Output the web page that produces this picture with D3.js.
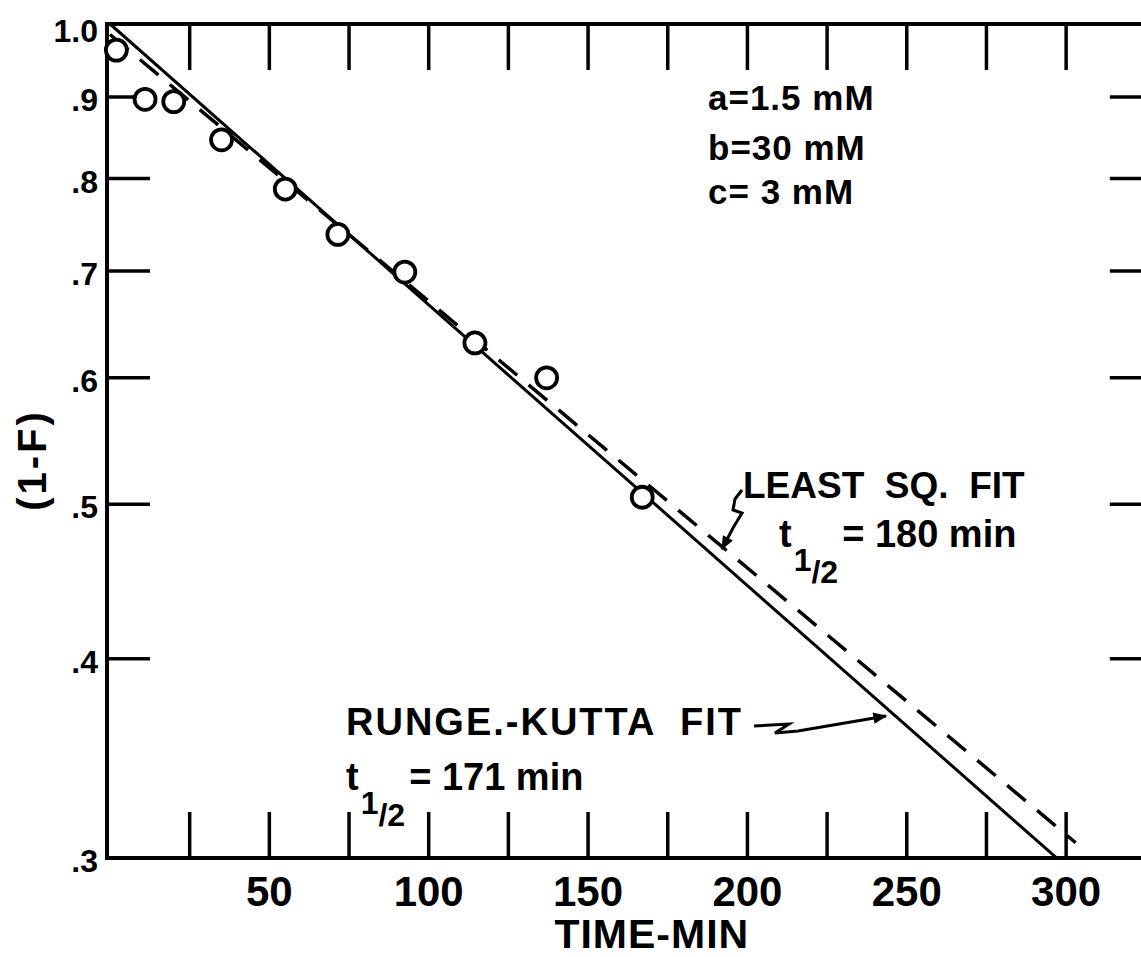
<!DOCTYPE html>
<html>
<head>
<meta charset="utf-8">
<script src="https://cdn.jsdelivr.net/npm/d3@7/dist/d3.min.js"></script>
<style>
  html, body { margin: 0; padding: 0; background: #fff; }
  svg { display: block; }
  text { font-family: "Liberation Sans", Arial, sans-serif; font-weight: bold; fill: #000; }
</style>
</head>
<body>
<svg id="chart" width="1141" height="957"></svg>
<script>
// Observed fraction remaining (1-F) versus time in minutes
const times = [2, 11, 20, 35, 55, 71.5, 92.5, 114.5, 137, 167];
const fractions = [0.963, 0.897, 0.894, 0.846, 0.788, 0.738, 0.699, 0.631, 0.600, 0.505];

// Fitted first-order decays: value = start * 2^(-t / halfLife)
const rungeKuttaHalfLife = 171;
const rungeKuttaStart = 1.0;
const rungeKuttaEnd = 297;
const leastSqHalfLife = 180;
const leastSqStart = 0.985;
const leastSqEnd = 303;

// Axis ticks
const xTicks = [25, 50, 75, 100, 125, 150, 175, 200, 225, 250, 275, 300];
const xTickLabels = [50, 100, 150, 200, 250, 300];
const yTicks = [0.9, 0.8, 0.7, 0.6, 0.5, 0.4];
const yTickLabels = [[1.0, "1.0"], [0.9, ".9"], [0.8, ".8"], [0.7, ".7"], [0.6, ".6"], [0.5, ".5"], [0.4, ".4"], [0.3, ".3"]];

const concentrations = ["a=1.5 mM", "b=30 mM", "c= 3 mM"];

const svg = d3.select("#chart");

const x = d3.scaleLinear().domain([0, 325]).range([110, 1145.8]);
const y = d3.scaleLog().domain([0.3, 1.0]).range([858, 24]);

const frameL = x(0) - 3, frameR = x(325) + 4, frameT = y(1.0), frameB = y(0.3);

// Frame
svg.append("rect")
  .attr("x", frameL).attr("y", frameT)
  .attr("width", frameR - frameL).attr("height", frameB - frameT)
  .attr("fill", "none").attr("stroke", "#000").attr("stroke-width", 4);

const tickG = svg.append("g").attr("stroke", "#000").attr("stroke-width", 3.5);
// Top and bottom ticks, pointing inward
tickG.selectAll("line.tt").data(xTicks).join("line").attr("class", "tt")
  .attr("x1", d => x(d)).attr("x2", d => x(d))
  .attr("y1", frameT).attr("y2", frameT + 46);
tickG.selectAll("line.bt").data(xTicks).join("line").attr("class", "bt")
  .attr("x1", d => x(d)).attr("x2", d => x(d))
  .attr("y1", frameB).attr("y2", frameB - 46);
// Left and right ticks
tickG.selectAll("line.lt").data(yTicks).join("line").attr("class", "lt")
  .attr("x1", frameL).attr("x2", frameL + 43)
  .attr("y1", d => y(d)).attr("y2", d => y(d));
tickG.selectAll("line.rt").data(yTicks).join("line").attr("class", "rt")
  .attr("x1", frameR).attr("x2", frameR - 40)
  .attr("y1", d => y(d)).attr("y2", d => y(d));

// Tick labels
svg.selectAll("text.yl").data(yTickLabels).join("text").attr("class", "yl")
  .attr("x", 98).attr("y", d => y(d[0]) + (d[0] === 1 ? 18 : 14))
  .attr("text-anchor", "end").attr("font-size", 32)
  .text(d => d[1]);

svg.selectAll("text.xl").data(xTickLabels).join("text").attr("class", "xl")
  .attr("x", d => x(d)).attr("y", 906)
  .attr("text-anchor", "middle").attr("font-size", 42)
  .text(d => d);

// Axis titles
svg.append("text")
  .attr("x", x(170)).attr("y", 948)
  .attr("text-anchor", "middle").attr("font-size", 41)
  .attr("letter-spacing", 1)
  .text("TIME-MIN");

svg.append("text")
  .attr("transform", "translate(46,460) rotate(-90)")
  .attr("text-anchor", "middle").attr("font-size", 40)
  .attr("letter-spacing", 3)
  .text("(1-F)");

// Fit lines
const line = d3.line().x(d => x(d[0])).y(d => y(d[1]));
const decay = (start, half, t) => start * Math.pow(2, -t / half);

svg.append("path")
  .datum([[0, decay(rungeKuttaStart, rungeKuttaHalfLife, 0)], [rungeKuttaEnd, decay(rungeKuttaStart, rungeKuttaHalfLife, rungeKuttaEnd)]])
  .attr("d", line).attr("fill", "none").attr("stroke", "#000").attr("stroke-width", 3);

svg.append("path")
  .datum([[0, decay(leastSqStart, leastSqHalfLife, 0)], [leastSqEnd, decay(leastSqStart, leastSqHalfLife, leastSqEnd)]])
  .attr("d", line).attr("fill", "none").attr("stroke", "#000").attr("stroke-width", 3.5)
  .attr("stroke-dasharray", "24 15");

// Data points
svg.selectAll("circle.pt").data(times.map((t, i) => [t, fractions[i]])).join("circle").attr("class", "pt")
  .attr("cx", d => x(d[0])).attr("cy", d => y(d[1]))
  .attr("r", 10.5).attr("fill", "#fff").attr("stroke", "#000").attr("stroke-width", 3.8);

// Concentration notes
svg.selectAll("text.conc").data(concentrations).join("text").attr("class", "conc")
  .attr("x", 708).attr("y", (d, i) => [110, 160, 204][i])
  .attr("font-size", 35).attr("letter-spacing", 1)
  .style("white-space", "pre")
  .text(d => d);

// Half-life label: "t" with a stacked 1/2 subscript, then the value
function halfLifeLabel(x0, y0, valueText, valueGap) {
  const g = svg.append("text").attr("x", x0).attr("y", y0).attr("font-size", 38);
  g.append("tspan").text("t");
  g.append("tspan").attr("font-size", 32).attr("dx", 2).attr("dy", 24).text("1");
  g.append("tspan").attr("font-size", 32).attr("dy", 12).text("/2");
  g.append("tspan").attr("dy", -36).attr("dx", valueGap).text(valueText);
}

// Least squares annotation
svg.append("text").attr("x", 743).attr("y", 498).attr("font-size", 37)
  .style("white-space", "pre").text("LEAST  SQ.  FIT");
halfLifeLabel(779, 547, "= 180 min", 4);

// Runge-Kutta annotation
svg.append("text").attr("x", 346).attr("y", 735).attr("font-size", 38)
  .attr("letter-spacing", 2)
  .style("white-space", "pre").text("RUNGE.-KUTTA  FIT");
halfLifeLabel(346, 790, "= 171 min", 4);

// Squiggle pointers
const defs = svg.append("defs");
defs.append("marker").attr("id", "head").attr("viewBox", "0 0 10 10")
  .attr("refX", 9).attr("refY", 5)
  .attr("markerUnits", "userSpaceOnUse").attr("orient", "auto")
  .attr("markerWidth", 20).attr("markerHeight", 14)
  .append("path").attr("d", "M0,1 L10,5 L0,9 Z").attr("fill", "#000");

const plain = d3.line();
svg.append("path")
  .attr("d", plain([[742, 490], [735, 499], [733, 510], [742, 513], [733, 528], [722, 549]]))
  .attr("fill", "none").attr("stroke", "#000").attr("stroke-width", 3)
  .attr("marker-end", "url(#head)");

svg.append("path")
  .attr("d", plain([[754, 726], [789, 724], [775, 733], [798, 731], [886, 716]]))
  .attr("fill", "none").attr("stroke", "#000").attr("stroke-width", 3)
  .attr("marker-end", "url(#head)");
</script>
</body>
</html>
